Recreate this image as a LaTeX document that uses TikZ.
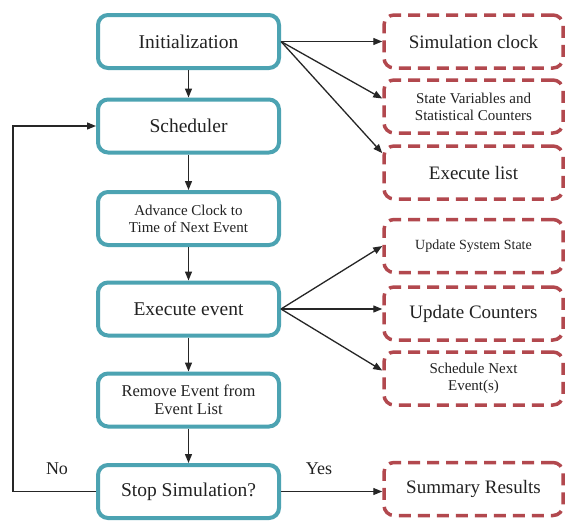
\documentclass[tikz,border=0pt]{standalone}
\usepackage{fontspec}
\setmainfont{Liberation Serif}
\usetikzlibrary{arrows.meta}
\definecolor{boxteal}{RGB}{76,163,178}
\definecolor{boxred}{RGB}{178,72,78}
\definecolor{txtgray}{RGB}{34,34,34}

\begin{document}
\begin{tikzpicture}[x=1pt,y=-1pt,
    stepbox/.style={draw=boxteal,line width=4pt,rounded corners=10pt,fill=white,
      minimum width=181pt,minimum height=53pt,text=txtgray,
      font=\fontsize{19.5}{22}\selectfont},
    databox/.style={draw=boxred,line width=3.5pt,dash pattern=on 12pt off 7pt,
      rounded corners=10pt,fill=white,minimum width=179pt,minimum height=53pt,
      text=txtgray,font=\fontsize{19}{22}\selectfont},
    smalltext/.style={align=center,font=\fontsize{15}{17}\selectfont},
    flow/.style={-{Triangle[length=9pt,width=7pt]},line width=1.3pt,black!85}]

    % Frame
    \useasboundingbox[fill=white] (0,0) rectangle (567,523);

    % Main loop
    \node[stepbox] (init) at (188.5,41.5) {Initialization};
    \node[stepbox] (sched) at (188.5,126) {Scheduler};
    \node[stepbox,smalltext] (advance) at (188.5,218.5) {Advance Clock to\\Time of Next Event};
    \node[stepbox] (exec) at (188.5,309) {Execute event};
    \node[stepbox,smalltext,font=\fontsize{16.5}{18}\selectfont] (remove) at (188.5,400)
      {Remove Event from\\Event List};
    \node[stepbox] (stop) at (188.5,491.5) {Stop Simulation?};

    % Data boxes
    \node[databox] (clock) at (473.5,41.5) {Simulation clock};
    \node[databox,smalltext] (vars) at (473.5,106.5) {State Variables and\\Statistical Counters};
    \node[databox] (elist) at (473.5,172.5) {Execute list};
    \node[databox,smalltext,font=\fontsize{14}{17}\selectfont] (upstate) at (473.5,246)
      {Update System State};
    \node[databox] (upcount) at (473.5,313.5) {Update Counters};
    \node[databox,smalltext] (nextev) at (473.5,378.5) {Schedule Next\\Event(s)};
    \node[databox] (summary) at (473.5,489) {Summary Results};

    % Vertical flow
    \draw[flow] (init) -- (sched);
    \draw[flow] (sched) -- (advance);
    \draw[flow] (advance) -- (exec);
    \draw[flow] (exec) -- (remove);
    \draw[flow] (remove) -- (stop);

    % Fan-outs
    \draw[flow] (init.east) -- (clock.west);
    \draw[flow] (init.east) -- (vars.175);
    \draw[flow] (init.east) -- (elist.168);
    \draw[flow] (exec.east) -- (upstate.west);
    \draw[flow] (exec.east) -- (exec.east -| upcount.west);
    \draw[flow] (exec.east) -- (nextev.175);

    % Decision
    \draw[flow] (stop.east) -- (stop.east -| summary.west);
    \draw[flow] (stop.west) -- ++(-83,0) |- (sched.west);
    \node[text=txtgray,font=\fontsize{18}{20}\selectfont] (no) at (57,469) {No};
    \node[text=txtgray,font=\fontsize{18}{20}\selectfont] (yes) at (319,469) {Yes};
\end{tikzpicture}
\end{document}
